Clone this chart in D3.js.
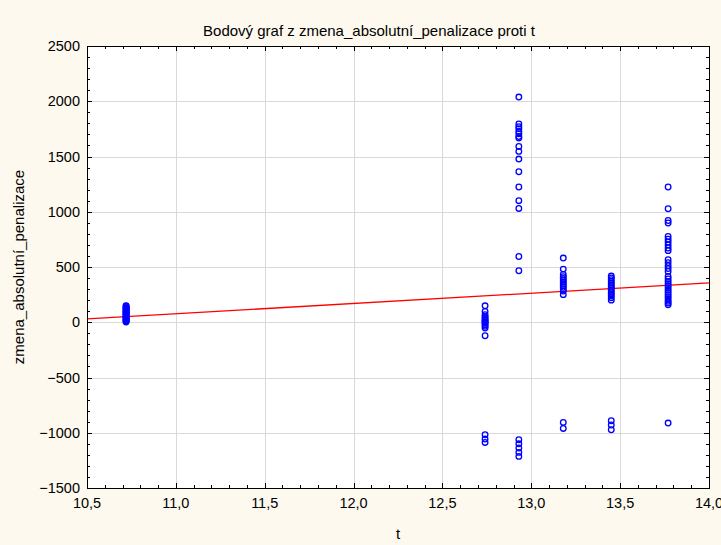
<!DOCTYPE html>
<html>
<head>
<meta charset="utf-8">
<script src="https://cdn.jsdelivr.net/npm/d3@7/dist/d3.min.js"></script>
<style>
  html, body { margin: 0; padding: 0; background: #fdf9ee; }
  svg { display: block; font-family: "Liberation Sans", Arial, sans-serif; }
</style>
</head>
<body>
<svg id="chart" width="721" height="545"></svg>
<script>
// t levels at which the observations were taken
const tLevels = [10.72, 12.74, 12.93, 13.18, 13.45, 13.77];

// zmena_absolutní_penalizace observed at each t level (same order as tLevels)
const valuesAt1072 = [150, 145, 138, 130, 124, 118, 110, 104, 98, 92, 86, 80, 74, 68, 62, 56, 50, 44, 38, 32, 26, 20, 14, 8, 2];
const valuesAt1274 = [149, 98, 68, 52, 38, 26, 16, 6, 0, -10, -22, -36, -52, -122, -1018, -1057, -1088];
const valuesAt1293 = [2038, 1794, 1770, 1751, 1727, 1706, 1681, 1667, 1591, 1546, 1477, 1362, 1224, 1100, 1030, 595, 466, -1063, -1100, -1138, -1178, -1214];
const valuesAt1318 = [581, 481, 432, 412, 396, 380, 364, 348, 332, 316, 298, 282, 250, -907, -961];
const valuesAt1345 = [418, 402, 386, 370, 354, 338, 322, 306, 290, 272, 256, 240, 222, 200, -891, -930, -973];
const valuesAt1377 = [1224, 1027, 921, 898, 776, 752, 726, 700, 672, 648, 566, 540, 512, 486, 460, 414, 392, 370, 350, 330, 310, 290, 270, 250, 230, 210, 190, 174, 158, -912];
const valueGroups = [valuesAt1072, valuesAt1274, valuesAt1293, valuesAt1318, valuesAt1345, valuesAt1377];

// Least-squares fit: zmena = intercept + slope * t
const fitIntercept = -945;
const fitSlope = 92.9;

// Axis tick values
const xTicks = [10.5, 11.0, 11.5, 12.0, 12.5, 13.0, 13.5, 14.0];
const yTicks = [-1500, -1000, -500, 0, 500, 1000, 1500, 2000, 2500];

const titleText = "Bodový graf z zmena_absolutní_penalizace proti t";
const xLabel = "t";
const yLabel = "zmena_absolutní_penalizace";

const svg = d3.select("#chart");
const W = 721, H = 545;
const plot = { left: 87, right: 709, top: 46, bottom: 488 };

const x = d3.scaleLinear().domain([10.5, 14.0]).range([plot.left, plot.right]);
const y = d3.scaleLinear().domain([-1500, 2500]).range([plot.bottom, plot.top]);

const locale = d3.formatLocale({ decimal: ",", thousands: "", grouping: [3], currency: ["", ""] });
const fmtX = locale.format(".1f");
const fmtY = locale.format("d");

svg.append("rect").attr("width", W).attr("height", H).attr("fill", "#fdf9ee");

// white plotting area
svg.append("rect")
  .attr("x", plot.left).attr("y", plot.top)
  .attr("width", plot.right - plot.left).attr("height", plot.bottom - plot.top)
  .attr("fill", "#ffffff");

// grid lines
const grid = svg.append("g").attr("stroke", "#d9d9d9").attr("stroke-width", 1).attr("shape-rendering", "crispEdges");
grid.selectAll("line.gx").data(xTicks.slice(1, -1)).join("line")
  .attr("x1", d => Math.round(x(d)) + 0.5).attr("x2", d => Math.round(x(d)) + 0.5)
  .attr("y1", plot.top).attr("y2", plot.bottom);
grid.selectAll("line.gy").data(yTicks.slice(1, -1)).join("line")
  .attr("y1", d => Math.round(y(d)) + 0.5).attr("y2", d => Math.round(y(d)) + 0.5)
  .attr("x1", plot.left).attr("x2", plot.right);

// regression line
const clip = svg.append("clipPath").attr("id", "plotClip").append("rect")
  .attr("x", plot.left).attr("y", plot.top)
  .attr("width", plot.right - plot.left).attr("height", plot.bottom - plot.top);
const [t0, t1] = x.domain();
svg.append("line")
  .attr("clip-path", "url(#plotClip)")
  .attr("x1", x(t0)).attr("y1", y(fitIntercept + fitSlope * t0))
  .attr("x2", x(t1)).attr("y2", y(fitIntercept + fitSlope * t1))
  .attr("stroke", "#ff0000").attr("stroke-width", 1.3);

// scatter points
const points = [];
valueGroups.forEach((vals, i) => vals.forEach(v => points.push({ t: tLevels[i], v })));
svg.append("g").selectAll("circle").data(points).join("circle")
  .attr("cx", d => x(d.t)).attr("cy", d => y(d.v)).attr("r", 2.8)
  .attr("fill", "none").attr("stroke", "#0000ff").attr("stroke-width", 1.3);

// axes with inward ticks on all four sides
const majorLen = 5, minorLen = 3;
const xMinor = d3.range(105, 141).map(k => k / 10);
const yMinor = d3.range(-15, 26).map(k => k * 100);
function axisSide(g, scale, ticks, minor, orient) {
  const ax = (orient === "bottom" ? d3.axisTop : orient === "top" ? d3.axisBottom :
              orient === "left" ? d3.axisRight : d3.axisLeft)(scale);
  g.call(ax.tickValues(minor).tickSize(minorLen).tickFormat(""));
  g.call(gg => gg.selectAll(".tick line").filter(d => ticks.some(t => Math.abs(t - d) < 1e-9)).attr(orient === "bottom" ? "y2" : orient === "top" ? "y2" : "x2",
      orient === "bottom" ? -majorLen : orient === "top" ? majorLen : orient === "left" ? majorLen : -majorLen));
  g.select(".domain").remove();
  g.selectAll(".tick text").remove();
  g.selectAll("line").attr("stroke", "#000").attr("shape-rendering", "crispEdges");
}
axisSide(svg.append("g").attr("transform", `translate(0,${plot.bottom})`), x, xTicks, xMinor, "bottom");
axisSide(svg.append("g").attr("transform", `translate(0,${plot.top})`), x, xTicks, xMinor, "top");
axisSide(svg.append("g").attr("transform", `translate(${plot.left},0)`), y, yTicks, yMinor, "left");
axisSide(svg.append("g").attr("transform", `translate(${plot.right},0)`), y, yTicks, yMinor, "right");

// frame
svg.append("rect")
  .attr("x", plot.left + 0.5).attr("y", plot.top + 0.5)
  .attr("width", plot.right - plot.left).attr("height", plot.bottom - plot.top)
  .attr("fill", "none").attr("stroke", "#000").attr("stroke-width", 1)
  .attr("shape-rendering", "crispEdges");

// tick labels
svg.append("g").selectAll("text").data(xTicks).join("text")
  .attr("x", d => x(d)).attr("y", plot.bottom + 20)
  .attr("text-anchor", "middle").attr("font-size", 14.5).attr("fill", "#000")
  .text(d => fmtX(d));
svg.append("g").selectAll("text").data(yTicks).join("text")
  .attr("x", plot.left - 7).attr("y", d => y(d)).attr("dy", "0.36em")
  .attr("text-anchor", "end").attr("font-size", 14.5).attr("fill", "#000")
  .text(d => fmtY(d));

// titles
svg.append("text").attr("x", 369).attr("y", 36)
  .attr("text-anchor", "middle").attr("font-size", 15).attr("fill", "#000")
  .text(titleText);
svg.append("text").attr("x", 398).attr("y", 539)
  .attr("text-anchor", "middle").attr("font-size", 15).attr("fill", "#000")
  .text(xLabel);
svg.append("text").attr("transform", `translate(24,${(plot.top + plot.bottom) / 2}) rotate(-90)`)
  .attr("text-anchor", "middle").attr("font-size", 15).attr("fill", "#000")
  .text(yLabel);
</script>
</body>
</html>
